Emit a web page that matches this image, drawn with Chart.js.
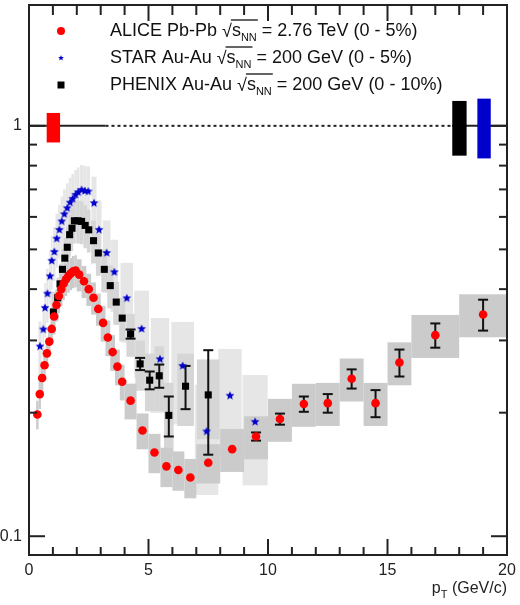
<!DOCTYPE html>
<html>
<head>
<meta charset="utf-8">
<script src="https://cdn.jsdelivr.net/npm/chart.js@4/dist/chart.umd.min.js"></script>
<style>
	html, body { margin: 0; padding: 0; background: #fff }
	#wrap { width: 520px; height: 605px }
</style>
</head>
<body>
<div id="wrap"><canvas id="raa" width="520" height="605"></canvas></div>
<script>
// values (pT in GeV/c, R_AA)
const alicePt = [0.35, 0.45, 0.55, 0.65, 0.75, 0.85, 0.95, 1.05, 1.15, 1.25, 1.35, 1.45, 1.55, 1.65, 1.75, 1.85, 1.95,
	2.1, 2.3, 2.5, 2.7, 2.9, 3.1, 3.3, 3.5, 3.7, 3.9, 4.25, 4.75, 5.25, 5.75, 6.25, 6.75,
	7.5, 8.5, 9.5, 10.5, 11.5, 12.5, 13.5, 14.5, 15.5, 17, 19]
const aliceRaa = [0.198, 0.222, 0.243, 0.261, 0.279, 0.298, 0.320, 0.343, 0.366, 0.385, 0.400, 0.413, 0.423, 0.431, 0.437, 0.442, 0.444,
	0.434, 0.418, 0.400, 0.381, 0.358, 0.331, 0.305, 0.281, 0.259, 0.238, 0.214, 0.181, 0.160, 0.148, 0.145, 0.139,
	0.151, 0.163, 0.175, 0.193, 0.210, 0.211, 0.242, 0.211, 0.265, 0.309, 0.347]
const aliceStat = [0, 0, 0, 0, 0, 0, 0, 0, 0, 0, 0, 0, 0, 0, 0, 0, 0,
	0, 0, 0, 0, 0, 0, 0, 0, 0, 0, 0, 0, 0, 0, 0, 0,
	0, 0, 0.004, 0.006, 0.009, 0.011, 0.013, 0.016, 0.02, 0.021, 0.03]
const aliceSysRel = [0.08, 0.08, 0.08, 0.08, 0.08, 0.08, 0.08, 0.09, 0.09, 0.09, 0.09, 0.09, 0.09, 0.09, 0.09, 0.09, 0.09,
	0.09, 0.09, 0.09, 0.09, 0.09, 0.1, 0.1, 0.1, 0.1, 0.1, 0.1, 0.1, 0.11, 0.11, 0.11, 0.11,
	0.11, 0.12, 0.12, 0.12, 0.12, 0.12, 0.12, 0.12, 0.12, 0.12, 0.12]
const aliceBinW = [0.1, 0.1, 0.1, 0.1, 0.1, 0.1, 0.1, 0.1, 0.1, 0.1, 0.1, 0.1, 0.1, 0.1, 0.1, 0.1, 0.1,
	0.2, 0.2, 0.2, 0.2, 0.2, 0.2, 0.2, 0.2, 0.2, 0.2, 0.5, 0.5, 0.5, 0.5, 0.5, 0.5,
	1, 1, 1, 1, 1, 1, 1, 1, 1, 2, 2]

const starPt = [0.46, 0.6, 0.67, 0.77, 0.88, 0.95, 1.06, 1.16, 1.27, 1.37, 1.48, 1.6, 1.72, 1.83, 1.95,
	2.06, 2.2, 2.34, 2.48, 2.72, 2.93, 3.25, 3.57, 4.09, 4.71, 5.48, 6.43, 7.43, 8.41, 9.46]
const starRaa = [0.29, 0.319, 0.36, 0.39, 0.43, 0.469, 0.493, 0.531, 0.558, 0.585, 0.609, 0.63, 0.65, 0.664, 0.679,
	0.689, 0.698, 0.694, 0.692, 0.648, 0.558, 0.49, 0.44, 0.38, 0.32, 0.27, 0.26, 0.18, 0.22, 0.19]
const starSysRel = [0.15, 0.15, 0.15, 0.15, 0.15, 0.15, 0.15, 0.15, 0.15, 0.15, 0.15, 0.15, 0.15, 0.15, 0.15,
	0.15, 0.15, 0.15, 0.15, 0.16, 0.18, 0.2, 0.2, 0.22, 0.24, 0.26, 0.28, 0.3, 0.3, 0.3]

const phenixPt = [1.02, 1.2, 1.3, 1.4, 1.5, 1.6, 1.7, 1.8, 1.9, 2.05, 2.2, 2.35, 2.5, 2.7, 2.9, 3.15, 3.4, 3.65, 3.9,
	4.25, 4.65, 5.05, 5.45, 5.85, 6.55, 7.5]
const phenixRaa = [0.352, 0.381, 0.412, 0.447, 0.476, 0.506, 0.543, 0.563, 0.587, 0.587, 0.585, 0.572, 0.558, 0.525, 0.49, 0.447, 0.408, 0.372, 0.34,
	0.311, 0.263, 0.24, 0.246, 0.197, 0.232, 0.221]
const phenixStat = [0, 0, 0, 0, 0, 0, 0, 0, 0, 0, 0, 0, 0, 0, 0, 0, 0, 0, 0,
	0.008, 0.009, 0.012, 0.016, 0.022, 0.028, 0.063]
const phenixSysRel = [0.12, 0.12, 0.12, 0.12, 0.12, 0.12, 0.12, 0.12, 0.12, 0.12, 0.12, 0.12, 0.12, 0.12, 0.12, 0.12, 0.12, 0.12, 0.12,
	0.12, 0.14, 0.16, 0.18, 0.2, 0.2, 0.22]

// normalisation uncertainties drawn around R_AA = 1
const aliceNorm = [0.911, 1.075]
const phenixNorm = [0.846, 1.15]
const starNorm = [0.833, 1.165]

const legendNames = ['ALICE Pb-Pb ', 'STAR Au-Au ', 'PHENIX Au-Au ']
const legendEnergies = [' = 2.76 TeV (0 - 5%)', ' = 200 GeV (0 - 5%)', ' = 200 GeV (0 - 10%)']
const yTickLabels = ['0.1', '1']

const FONT = '"Liberation Sans", Arial, sans-serif'
const RED = '#ff0000'
const BLUE = '#0000cc'
const BLACK = '#000000'

function toPoints(xs, ys) {
	return xs.map(function (x, i) { return { x: x, y: ys[i] } })
}

// filled five point star used as point style
function starImage(r, color) {
	const c = document.createElement('canvas')
	const s = Math.ceil(r * 2 + 2)
	c.width = s
	c.height = s
	const g = c.getContext('2d')
	g.fillStyle = color
	g.beginPath()
	for (let i = 0; i < 10; i++) {
		const rr = i % 2 ? r * 0.45 : r
		const a = -Math.PI / 2 + i * Math.PI / 5
		g.lineTo(s / 2 + rr * Math.cos(a), s / 2 + rr * Math.sin(a))
	}
	g.closePath()
	g.fill()
	return c
}

function halfWidths(pts) {
	return pts.map(function (p, i) {
		const prev = i > 0 ? p - pts[i - 1] : pts[1] - pts[0]
		const next = i < pts.length - 1 ? pts[i + 1] - p : prev
		return Math.min(prev, next) / 2
	})
}

function line(ctx, x1, y1, x2, y2) {
	ctx.beginPath()
	ctx.moveTo(x1, y1)
	ctx.lineTo(x2, y2)
	ctx.stroke()
}

// systematic boxes, unity line, normalisation boxes, error bars
const underlay = {
	id: 'underlay',
	beforeDatasetsDraw(chart) {
		const ctx = chart.ctx
		const xs = chart.scales.x
		const ys = chart.scales.y
		const a = chart.chartArea
		ctx.save()
		ctx.beginPath()
		ctx.rect(a.left, a.top, a.right - a.left, a.bottom - a.top)
		ctx.clip()

		function boxes(pts, vals, rel, hw, color) {
			ctx.fillStyle = color
			pts.forEach(function (p, i) {
				const x1 = xs.getPixelForValue(p - hw[i])
				const x2 = xs.getPixelForValue(p + hw[i])
				const y1 = ys.getPixelForValue(vals[i] * (1 + rel[i]))
				const y2 = ys.getPixelForValue(vals[i] * (1 - rel[i]))
				ctx.fillRect(x1, y1, x2 - x1, y2 - y1)
			})
		}
		boxes(starPt, starRaa, starSysRel, halfWidths(starPt), '#e6e6e6')
		boxes(phenixPt, phenixRaa, phenixSysRel, halfWidths(phenixPt), '#d6d6d6')
		boxes(alicePt, aliceRaa, aliceSysRel, aliceBinW.map(function (w) { return w / 2 }), '#cbcbcb')

		// line at one: solid, dotted, solid
		const y1 = ys.getPixelForValue(1)
		ctx.strokeStyle = '#222'
		ctx.lineWidth = 2
		line(ctx, xs.getPixelForValue(0), y1, xs.getPixelForValue(3.2), y1)
		line(ctx, xs.getPixelForValue(17.7), y1, xs.getPixelForValue(20), y1)
		ctx.setLineDash([3, 3])
		line(ctx, xs.getPixelForValue(3.2), y1, xs.getPixelForValue(17.7), y1)
		ctx.setLineDash([])

		function norm(lo, hi, band, color) {
			const x1 = xs.getPixelForValue(lo)
			const x2 = xs.getPixelForValue(hi)
			const t = ys.getPixelForValue(band[1])
			const b = ys.getPixelForValue(band[0])
			ctx.fillStyle = color
			ctx.fillRect(x1, t, x2 - x1, b - t)
		}
		norm(0.74, 1.3, aliceNorm, RED)
		norm(17.71, 18.31, phenixNorm, BLACK)
		norm(18.76, 19.32, starNorm, BLUE)

		function bars(pts, vals, errs) {
			ctx.strokeStyle = '#111'
			ctx.lineWidth = 2
			pts.forEach(function (p, i) {
				if (!errs[i]) return
				const x = xs.getPixelForValue(p)
				const t = ys.getPixelForValue(vals[i] + errs[i])
				const b = ys.getPixelForValue(vals[i] - errs[i])
				line(ctx, x, t, x, b)
				line(ctx, x - 5, t, x + 5, t)
				line(ctx, x - 5, b, x + 5, b)
			})
		}
		bars(phenixPt, phenixRaa, phenixStat)
		bars(alicePt, aliceRaa, aliceStat)
		ctx.restore()
	},
	afterDraw(chart) {
		const ctx = chart.ctx
		const xs = chart.scales.x
		const ys = chart.scales.y
		const a = chart.chartArea
		ctx.save()
		ctx.strokeStyle = '#222'
		ctx.lineWidth = 2
		ctx.strokeRect(a.left, a.top, a.right - a.left, a.bottom - a.top)

		// ticks inside the frame, ROOT style
		for (let v = xs.min; v <= xs.max; v++) {
			const px = xs.getPixelForValue(v)
			const major = v % 5 === 0
			line(ctx, px, a.bottom, px, a.bottom - (major ? 16 : 8))
			line(ctx, px, a.top, px, a.top + (major ? 16 : 10))
		}
		;[0.1, 1].forEach(function (d) {
			for (let m = 1; m <= 9; m++) {
				const v = d * m
				if (v < ys.min || v > ys.max) continue
				const py = ys.getPixelForValue(v)
				const len = m === 1 ? 16 : 8
				line(ctx, a.left, py, a.left + len, py)
				line(ctx, a.right, py, a.right - len, py)
			}
		})

		// legend
		const markerX = 61
		const textX = 110
		const rows = [36, 63, 90]
		ctx.fillStyle = RED
		ctx.beginPath()
		ctx.arc(markerX, rows[0] - 5, 4, 0, Math.PI * 2)
		ctx.fill()
		ctx.drawImage(starImage(3, BLUE), markerX - 4, rows[1] - 9)
		ctx.fillStyle = BLACK
		ctx.fillRect(markerX - 3.5, rows[2] - 8.5, 7, 7)

		legendNames.forEach(function (name, i) {
			let x = textX
			const y = rows[i]
			ctx.fillStyle = '#111'
			ctx.textBaseline = 'alphabetic'
			ctx.textAlign = 'left'
			ctx.font = '18px ' + FONT
			ctx.fillText(name, x, y)
			x += ctx.measureText(name).width
			ctx.fillText('\u221A', x, y + 1)
			x += ctx.measureText('\u221A').width
			const ox = x
			ctx.fillText('s', x, y)
			x += ctx.measureText('s').width
			ctx.font = '11px ' + FONT
			ctx.fillText('NN', x, y + 5)
			x += ctx.measureText('NN').width
			ctx.strokeStyle = '#111'
			ctx.lineWidth = 1.3
			line(ctx, ox - 1, y - 16, x + 1, y - 16)
			ctx.font = '18px ' + FONT
			ctx.fillText(legendEnergies[i], x, y)
		})

		// axis title with subscript
		ctx.fillStyle = '#222'
		ctx.font = '16px ' + FONT
		const rest = ' (GeV/c)'
		const wp = ctx.measureText('p').width
		const wr = ctx.measureText(rest).width
		ctx.font = '11px ' + FONT
		const wt = ctx.measureText('T').width
		let tx = a.right - wp - wt - wr
		ctx.font = '16px ' + FONT
		ctx.fillText('p', tx, 593)
		tx += wp
		ctx.font = '11px ' + FONT
		ctx.fillText('T', tx, 598)
		tx += wt
		ctx.font = '16px ' + FONT
		ctx.fillText(rest, tx, 593)
		ctx.restore()
	}
}

const ctx = document.getElementById('raa').getContext('2d')
new Chart(ctx, {
	type: 'scatter',
	data: {
		datasets: [{
			label: 'ALICE',
			data: toPoints(alicePt, aliceRaa),
			pointStyle: 'circle',
			pointRadius: 4.3,
			backgroundColor: RED,
			borderWidth: 0
		}, {
			label: 'STAR',
			data: toPoints(starPt, starRaa),
			pointStyle: starImage(4.6, BLUE),
			pointRadius: 4.6,
			backgroundColor: BLUE,
			borderWidth: 0
		}, {
			label: 'PHENIX',
			data: toPoints(phenixPt, phenixRaa),
			pointStyle: 'rect',
			pointRadius: 5,
			backgroundColor: BLACK,
			borderWidth: 0
		}]
	},
	options: {
		responsive: false,
		animation: false,
		devicePixelRatio: 1,
		layout: { padding: { top: 0, right: 13, left: 0, bottom: 0 } },
		plugins: { legend: { display: false }, tooltip: { enabled: false } },
		scales: {
			x: {
				type: 'linear',
				min: 0,
				max: 20,
				grid: { display: false, drawTicks: false },
				border: { display: false },
				ticks: { stepSize: 5, maxRotation: 0, padding: 6, color: '#222', font: { family: FONT, size: 16 } },
				afterFit: function (s) {
					s.height = 50
					s.paddingLeft = 0
					s.paddingRight = 0
				}
			},
			y: {
				type: 'logarithmic',
				min: 0.09,
				max: 1.97,
				grid: { display: false, drawTicks: false },
				border: { display: false },
				ticks: {
					autoSkip: false,
					padding: 7,
					color: '#222',
					font: { family: FONT, size: 16 },
					callback: function (v) {
						const hit = yTickLabels.find(function (t) { return Math.abs(parseFloat(t) - v) < 1e-9 })
						return hit || ''
					}
				},
				afterFit: function (s) {
					s.width = 29
					s.paddingTop = 0
					s.paddingBottom = 0
				}
			}
		}
	},
	plugins: [underlay]
})
</script>
</body>
</html>
